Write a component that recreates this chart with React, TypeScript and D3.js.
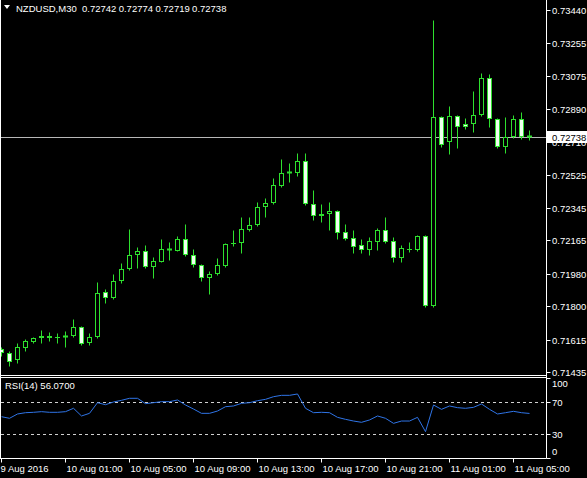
import React from 'react';
import * as d3 from 'd3';

const W = 587;
const H = 478;

const symbolLabel = 'NZDUSD,M30';
const headerValues = ['0.72742', '0.72774', '0.72719', '0.72738'];
const rsiTitle = 'RSI(14) 56.0700';
const currentPrice = 0.72738;

const opens = [
  0.71566, 0.71543, 0.71503, 0.71570, 0.71603, 0.71625, 0.71639, 0.71630, 0.71639, 0.71637,
  0.71685, 0.71599, 0.71630, 0.71878, 0.71844, 0.71941, 0.72006, 0.72084, 0.72107, 0.72020,
  0.72048, 0.72113, 0.72109, 0.72172, 0.72085, 0.72030, 0.71955, 0.71980, 0.72024, 0.72150,
  0.72150, 0.72223, 0.72250, 0.72349, 0.72371, 0.72468, 0.72539, 0.72540, 0.72605, 0.72366,
  0.72312, 0.72310, 0.72329, 0.72211, 0.72177, 0.72139, 0.72113, 0.72159, 0.72223, 0.72163,
  0.72066, 0.72117, 0.72113, 0.72190, 0.71801, 0.72847, 0.72712, 0.72854, 0.72808, 0.72808,
  0.72858, 0.73066, 0.72836, 0.72681, 0.72736, 0.72836, 0.72742,
];
const highs = [
  0.71578, 0.71554, 0.71600, 0.71619, 0.71633, 0.71667, 0.71660, 0.71652, 0.71665, 0.71731,
  0.71693, 0.71655, 0.71936, 0.71897, 0.71980, 0.72043, 0.72227, 0.72128, 0.72140, 0.72076,
  0.72173, 0.72156, 0.72190, 0.72256, 0.72117, 0.72036, 0.71998, 0.72067, 0.72149, 0.72223,
  0.72294, 0.72294, 0.72380, 0.72399, 0.72509, 0.72614, 0.72592, 0.72648, 0.72648, 0.72445,
  0.72367, 0.72380, 0.72334, 0.72257, 0.72223, 0.72172, 0.72183, 0.72234, 0.72294, 0.72183,
  0.72140, 0.72159, 0.72196, 0.72196, 0.73385, 0.72854, 0.72909, 0.72860, 0.72841, 0.72994,
  0.73090, 0.73086, 0.72843, 0.72847, 0.72860, 0.72874, 0.72774,
];
const lows = [
  0.71527, 0.71473, 0.71485, 0.71556, 0.71599, 0.71600, 0.71610, 0.71600, 0.71578, 0.71630,
  0.71587, 0.71587, 0.71626, 0.71818, 0.71842, 0.71932, 0.72002, 0.72015, 0.72012, 0.71956,
  0.72047, 0.72058, 0.72105, 0.72080, 0.72019, 0.71943, 0.71869, 0.71974, 0.72019, 0.72135,
  0.72098, 0.72218, 0.72246, 0.72297, 0.72367, 0.72459, 0.72490, 0.72522, 0.72362, 0.72279,
  0.72269, 0.72224, 0.72172, 0.72168, 0.72098, 0.72098, 0.72085, 0.72113, 0.72151, 0.72048,
  0.72048, 0.72103, 0.72107, 0.71796, 0.71796, 0.72681, 0.72644, 0.72675, 0.72780, 0.72767,
  0.72854, 0.72795, 0.72675, 0.72648, 0.72732, 0.72725, 0.72719,
];
const closes = [
  0.71543, 0.71495, 0.71578, 0.71606, 0.71628, 0.71639, 0.71628, 0.71631, 0.71633, 0.71685,
  0.71593, 0.71633, 0.71876, 0.71845, 0.71943, 0.72006, 0.72085, 0.72107, 0.72020, 0.72052,
  0.72117, 0.72116, 0.72172, 0.72085, 0.72030, 0.71956, 0.71980, 0.72030, 0.72144, 0.72152,
  0.72227, 0.72251, 0.72349, 0.72374, 0.72472, 0.72537, 0.72541, 0.72605, 0.72366, 0.72301,
  0.72302, 0.72329, 0.72208, 0.72172, 0.72131, 0.72113, 0.72164, 0.72223, 0.72159, 0.72066,
  0.72122, 0.72119, 0.72190, 0.71800, 0.72847, 0.72694, 0.72854, 0.72795, 0.72791, 0.72858,
  0.73066, 0.72836, 0.72681, 0.72739, 0.72836, 0.72739, 0.72738,
];
const rsiValues = [
  52, 50, 55.4, 57, 57.5, 58.3, 57.5, 57.5, 58.3, 62.5,
  52.9, 56.2, 69.5, 67, 70.4, 72.5, 75, 75, 68.3, 69.5,
  70.8, 70.8, 72.9, 66.6, 61.6, 56.2, 56.2, 59.1, 64.5, 65.4,
  68.7, 69.5, 72, 73.7, 77, 78.7, 78.7, 80.4, 62.5, 57,
  57.5, 57, 51.2, 48.7, 46.6, 45, 47.9, 52.9, 50, 43.7,
  46.6, 46.6, 51.2, 33.3, 66.6, 61.2, 65.4, 63.3, 62.5, 63.7,
  67.9, 61.2, 55.4, 57, 58.7, 57, 56.07,
];
const priceTicks = [0.7344, 0.73255, 0.73075, 0.7289, 0.7271, 0.72525, 0.72345, 0.72165, 0.7198, 0.718, 0.71615, 0.71435];
const rsiTickValues = [100, 70, 30, 0];
const rsiLevels = [70, 30];
const timeTickBars = [0, 8, 16, 24, 32, 40, 48, 56, 64];
const timeLabels = ['9 Aug 2016', '10 Aug 01:00', '10 Aug 05:00', '10 Aug 09:00', '10 Aug 13:00', '10 Aug 17:00', '10 Aug 21:00', '11 Aug 01:00', '11 Aug 05:00'];

const GREEN = '#2ee02e';
const FONT = "'Liberation Sans', Arial, sans-serif";

export default function App() {
  const n = closes.length;
  const x = d3.scaleLinear().domain([0, n - 1]).range([1.5, 1.5 + 8 * (n - 1)]);
  const y = d3.scaleLinear().domain([0.71435, 0.7344]).range([372.4, 10]);
  const ry = d3.scaleLinear().domain([0, 100]).range([458.3, 378.3]);
  const axisX = 546.5;
  const mainBottom = 375.5;
  const rsiTop = 377.5;
  const rsiBottom = 458.5;

  const rsiLine = d3
    .line<number>()
    .x((_, i) => x(i))
    .y((v) => ry(v))(rsiValues);

  const snap = (v: number) => Math.round(v) + 0.5;

  return (
    <svg
      width={W}
      height={H}
      style={{ position: 'absolute', left: 0, top: 0, display: 'block', background: '#000' }}
      fontFamily={FONT}
    >
      <rect x={0} y={0} width={W} height={H} fill="#000" />

      {/* current price line */}
      <line x1={0} x2={axisX} y1={snap(y(currentPrice))} y2={snap(y(currentPrice))} stroke="#b8b8b8" strokeWidth={1} />

      {/* candles */}
      {closes.map((c, i) => {
        const o = opens[i];
        const cx = x(i);
        const yh = snap(y(highs[i]));
        const yl = snap(y(lows[i]));
        const yo = y(o);
        const yc = y(c);
        const top = Math.round(Math.min(yo, yc));
        const bot = Math.round(Math.max(yo, yc));
        const bull = c >= o;
        const doji = bot - top < 2;
        return (
          <g key={i}>
            <line x1={cx} x2={cx} y1={yh} y2={yl} stroke={GREEN} strokeWidth={1} />
            {doji ? (
              <line x1={cx - 2.5} x2={cx + 2.5} y1={top + 0.5} y2={top + 0.5} stroke={GREEN} strokeWidth={bot - top >= 1 ? 2 : 1} />
            ) : (
              <rect
                x={cx - 2}
                y={top + 0.5}
                width={4}
                height={bot - top - 1}
                fill={bull ? '#000' : '#f0fff0'}
                stroke={GREEN}
                strokeWidth={1}
              />
            )}
          </g>
        );
      })}

      {/* frame */}
      <line x1={0.5} x2={0.5} y1={0} y2={rsiBottom} stroke="#fff" />
      <line x1={axisX} x2={axisX} y1={0} y2={rsiBottom} stroke="#fff" />
      <line x1={0} x2={axisX} y1={mainBottom} y2={mainBottom} stroke="#fff" />
      <line x1={0} x2={axisX} y1={rsiTop} y2={rsiTop} stroke="#fff" />
      <line x1={0} x2={axisX} y1={rsiBottom} y2={rsiBottom} stroke="#fff" />

      {/* price axis */}
      {priceTicks.map((p) => {
        const yy = snap(y(p));
        return (
          <g key={p}>
            <line x1={axisX} x2={axisX + 4} y1={yy} y2={yy} stroke="#fff" />
            <text x={552} y={yy} dy="0.35em" fill="#fff" fontSize={9.5}>
              {p.toFixed(5)}
            </text>
          </g>
        );
      })}
      {/* current price label */}
      <rect x={547} y={Math.round(y(currentPrice)) - 6} width={40} height={12} fill="#fff" />
      <text x={552} y={snap(y(currentPrice))} dy="0.35em" fill="#000" fontSize={9.5}>
        {currentPrice.toFixed(5)}
      </text>

      {/* RSI levels */}
      {rsiLevels.map((lv) => (
        <line key={lv} x1={1} x2={axisX} y1={snap(ry(lv))} y2={snap(ry(lv))} stroke="#d0d0d0" strokeDasharray="3,3" />
      ))}
      <path d={rsiLine || ''} fill="none" stroke="#2f74e6" strokeWidth={1} />
      {rsiTickValues.map((v) => {
        const yy = Math.min(Math.max(ry(v), 384), 451.5);
        return (
          <g key={v}>
            <line x1={axisX} x2={axisX + 4} y1={snap(ry(v))} y2={snap(ry(v))} stroke="#fff" />
            <text x={552} y={yy} dy="0.35em" fill="#fff" fontSize={9.5}>
              {v}
            </text>
          </g>
        );
      })}
      <text x={5} y={389} fill="#fff" fontSize={9.5}>
        {rsiTitle}
      </text>

      {/* time axis */}
      {timeTickBars.map((b, k) => {
        const tx = Math.floor(x(b)) + 0.5;
        return (
          <g key={b}>
            <line x1={tx} x2={tx} y1={rsiBottom} y2={rsiBottom + 4} stroke="#fff" />
            <text x={k === 0 ? 0.5 : tx + 1} y={472} fill="#fff" fontSize={9.5}>
              {timeLabels[k]}
            </text>
          </g>
        );
      })}

      {/* header */}
      <path d="M4,5 L10,5 L7,9 Z" fill="#fff" />
      <text x={16} y={12} fill="#fff" fontSize={9.5}>
        {symbolLabel}
      </text>
      {headerValues.map((v, i) => (
        <text key={i} x={82 + i * 36.7} y={12} fill="#fff" fontSize={9.5}>
          {v}
        </text>
      ))}
    </svg>
  );
}
